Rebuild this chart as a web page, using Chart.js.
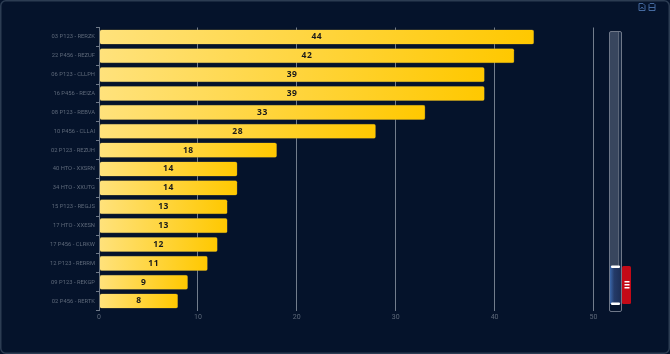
<!DOCTYPE html>
<html>
<head>
<meta charset="utf-8">
<style>
    html, body { margin: 0; padding: 0; background: #05132b; overflow: hidden; }
    #wrap { position: relative; width: 670px; height: 354px; }
    canvas { display: block; }
    #icons { position: absolute; left: 638px; top: 3px; }
    #icons svg { position: absolute; top: 0; }
</style>
<script src="https://cdn.jsdelivr.net/npm/chart.js@4/dist/chart.umd.min.js"></script>
</head>
<body>
<div id="wrap">
    <canvas id="chart" width="670" height="354"></canvas>
    <div id="icons">
        <svg style="left:0" width="8" height="8" viewBox="0 0 8 8" fill="none" stroke="#44699f" stroke-width="1">
            <path d="M1 .5h4l2 2v5H1z"/><path d="M2.5 6l1.5-2 1.5 2"/>
        </svg>
        <svg style="left:10px" width="8" height="8" viewBox="0 0 8 8" fill="none" stroke="#44699f" stroke-width="1">
            <path d="M2 .5h4l1 1v6H1v-6z"/><path d="M1 4.5h6"/>
        </svg>
    </div>
</div>
<script>
const categories = [
    "03 P123 - RERZK", "22 P456 - REZUF", "06 P123 - CLLPH", "16 P456 - REIZA", "08 P123 - REBVA",
    "10 P456 - CLLAI", "02 P123 - REZUH", "40 HTO - XXSRN", "34 HTO - XXUTG", "15 P123 - REGJS",
    "17 HTO - XXESN", "17 P456 - CLRKW", "12 P123 - RERRM", "09 P123 - REKGP", "02 P456 - RERTK"
];
const values = [44, 42, 39, 39, 33, 28, 18, 14, 14, 13, 13, 12, 11, 9, 8];
const xTicks = [0, 10, 20, 30, 40, 50];

// rounded panel border behind everything
const panelPlugin = {
    id: 'panel',
    beforeDraw(chart) {
        const ctx = chart.ctx;
        ctx.save();
        ctx.fillStyle = '#05132b';
        ctx.fillRect(0, 0, 670, 354);
        ctx.strokeStyle = '#2c3c52';
        ctx.lineWidth = 1.5;
        ctx.beginPath();
        ctx.roundRect(0.75, 0.75, 668.5, 352.5, 5);
        ctx.stroke();
        ctx.restore();
    }
};

// numbers in the middle of the bars
const barLabels = {
    id: 'barLabels',
    afterDatasetsDraw(chart) {
        const ctx = chart.ctx;
        const meta = chart.getDatasetMeta(0);
        ctx.save();
        ctx.font = 'bold 8.5px "Open Sans"';
        ctx.letterSpacing = '0.5px';
        ctx.fillStyle = '#1a1a1a';
        ctx.textAlign = 'center';
        ctx.textBaseline = 'middle';
        meta.data.forEach((bar, i) => {
            ctx.fillText(values[i], (bar.x + bar.base) / 2, bar.y);
        });
        ctx.restore();
    }
};

// the zoom slider on the right, just decoration
const sliderPlugin = {
    id: 'slider',
    afterDraw(chart) {
        const ctx = chart.ctx;
        ctx.save();
        ctx.fillStyle = '#38465e';
        ctx.fillRect(610, 32, 8, 234);
        ctx.fillStyle = '#1a2a44';
        ctx.fillRect(618, 32, 4, 234);
        ctx.fillStyle = '#5a6578';
        ctx.fillRect(618, 32, 1, 234);

        const g = ctx.createLinearGradient(610, 0, 622, 0);
        g.addColorStop(0, '#3a66a8');
        g.addColorStop(0.35, '#243a68');
        g.addColorStop(1, '#1b2c52');
        ctx.fillStyle = g;
        ctx.fillRect(610, 266, 12, 38);

        ctx.strokeStyle = '#6f7889';
        ctx.lineWidth = 1;
        ctx.beginPath();
        ctx.roundRect(609.5, 31.5, 12, 280, 1.5);
        ctx.stroke();

        ctx.fillStyle = '#c30a17';
        ctx.beginPath();
        ctx.roundRect(622, 266, 9, 38, 1.5);
        ctx.fill();

        ctx.fillStyle = '#ffffff';
        ctx.beginPath();
        ctx.roundRect(611, 265.5, 9, 2.5, 1);
        ctx.roundRect(611, 302.5, 9, 2.5, 1);
        ctx.fill();
        ctx.fillRect(624.5, 281, 5, 1.5);
        ctx.fillRect(624.5, 284, 5, 1.5);
        ctx.fillRect(624.5, 287, 5, 1.5);
        ctx.restore();
    }
};

function barGradient(context) {
    const xScale = context.chart.scales.x;
    const end = xScale ? xScale.getPixelForValue(context.raw) : NaN;
    if (!Number.isFinite(end)) return '#ffc800';
    const g = context.chart.ctx.createLinearGradient(xScale.getPixelForValue(0), 0, end, 0);
    g.addColorStop(0, '#ffe27c');
    g.addColorStop(1, '#ffc800');
    return g;
}

new Chart(document.getElementById('chart'), {
    type: 'bar',
    data: {
        labels: categories,
        datasets: [{
            data: values,
            backgroundColor: barGradient,
            borderColor: '#8c7a3a',
            borderWidth: 0.5,
            borderRadius: 2,
            borderSkipped: false,
            barPercentage: 0.8,
            categoryPercentage: 1
        }]
    },
    options: {
        responsive: false,
        animation: false,
        indexAxis: 'y',
        layout: { padding: { top: 27.5, right: 76.5, left: 0, bottom: 0 } },
        plugins: { legend: { display: false }, tooltip: { enabled: false } },
        scales: {
            x: {
                min: 0,
                max: 50,
                afterBuildTicks: scale => { scale.ticks = xTicks.map(v => ({ value: v })); },
                afterFit: scale => { scale.height = 43.5; },
                border: { display: false },
                grid: { color: '#727d8c', lineWidth: 1, drawTicks: false },
                ticks: { color: '#5e697a', padding: 3, font: { family: 'Roboto', size: 7 } }
            },
            y: {
                afterFit: scale => { scale.width = 99; },
                border: { color: '#6f7988' },
                grid: { drawOnChartArea: false, color: '#6f7988', tickLength: 3 },
                ticks: { color: '#5e697a', padding: 1, autoSkip: false, font: { family: 'Roboto', size: 5.8 } }
            }
        }
    },
    plugins: [panelPlugin, barLabels, sliderPlugin]
});
</script>
</body>
</html>
